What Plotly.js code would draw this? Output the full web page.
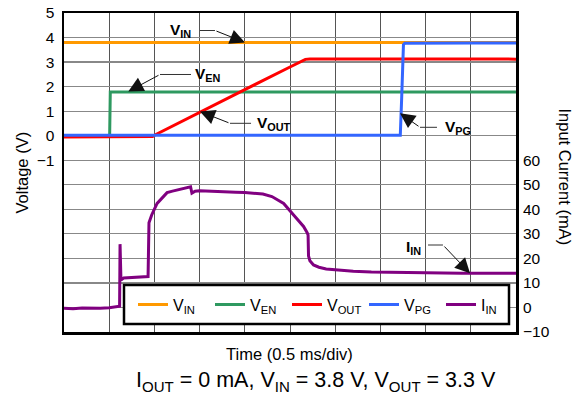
<!DOCTYPE html>
<html>
<head>
<meta charset="utf-8">
<script src="https://cdn.plot.ly/plotly-3.0.1.min.js"></script>
<style>html,body{margin:0;padding:0;background:#fff;}#chart{width:582px;height:402px;}</style>
</head>
<body>
<div id="chart"></div>
<script>
// Time in ms (0.5 ms/div, 10 divisions)
const vinTime = [0, 1, 2, 3, 4, 5];
const vinVolt = [3.8, 3.8, 3.8, 3.8, 3.8, 3.8];

const venTime = [0, 0.505, 0.512, 1.0, 2.0, 3.0, 4.0, 5.0];
const venVolt = [0.0, 0.0, 1.78, 1.78, 1.78, 1.78, 1.78, 1.78];

const voutTime = [0, 0.5, 0.98, 1.0, 1.5, 2.0, 2.5, 2.62, 2.67, 2.72, 3.0, 3.5, 4.0, 4.5, 5.0];
const voutVolt = [-0.05, -0.05, -0.03, 0.02, 0.96, 1.88, 2.8, 3.04, 3.11, 3.13, 3.13, 3.12, 3.13, 3.12, 3.12];

const vpgTime = [0, 1.0, 2.0, 3.0, 3.72, 3.735, 3.755, 3.77, 4.0, 4.5, 5.0];
const vpgVolt = [0.02, 0.02, 0.02, 0.02, 0.02, 1.5, 3.7, 3.77, 3.78, 3.78, 3.78];

const iinTime = [0, 0.1, 0.2, 0.3, 0.4, 0.5, 0.6, 0.615, 0.62, 0.63, 0.66, 0.75, 0.85, 0.93, 0.94, 0.97, 1.03, 1.1, 1.14, 1.2, 1.25, 1.3, 1.375, 1.4, 1.415, 1.45, 1.5, 1.6, 1.7, 1.8, 1.9, 2.0, 2.1, 2.2, 2.3, 2.43, 2.54, 2.6, 2.65, 2.69, 2.70, 2.705, 2.72, 2.76, 2.82, 2.9, 3.0, 3.2, 3.4, 3.6, 3.8, 4.0, 4.2, 4.4, 4.6, 4.8, 5.0];
const iinCurrent = [-0.3, -0.5, -0.2, -0.4, -0.3, -0.1, 0.2, 0.5, 25.8, 11.2, 12.0, 12.3, 12.4, 12.6, 34.5, 37.7, 42.4, 45.5, 46.8, 47.4, 47.9, 48.3, 49.0, 49.2, 46.6, 47.4, 47.6, 47.5, 47.3, 47.3, 47.0, 46.8, 46.6, 46.2, 45.2, 42.4, 37.7, 35.0, 33.0, 30.5, 29.5, 21.0, 19.0, 17.3, 16.4, 15.7, 15.3, 14.8, 14.5, 14.3, 14.2, 14.0, 14.0, 13.9, 13.9, 13.9, 13.9];

const xTicks = [0, 0.5, 1, 1.5, 2, 2.5, 3, 3.5, 4, 4.5, 5];
const yTickVals = [-1, 0, 1, 2, 3, 4, 5];
const y2TickVals = [-10, 0, 10, 20, 30, 40, 50, 60];

const FONT = 'Liberation Sans, Arial, sans-serif';

const traces = [
  {x: vinTime, y: vinVolt, name: 'V<sub>IN</sub>', mode: 'lines', line: {color: '#FF9900', width: 3}},
  {x: venTime, y: venVolt, name: 'V<sub>EN</sub>', mode: 'lines', line: {color: '#2E9960', width: 3}},
  {x: voutTime, y: voutVolt, name: 'V<sub>OUT</sub>', mode: 'lines', line: {color: '#FF0000', width: 3}},
  {x: vpgTime, y: vpgVolt, name: 'V<sub>PG</sub>', mode: 'lines', line: {color: '#3366FF', width: 3}},
  {x: iinTime, y: iinCurrent, name: 'I<sub>IN</sub>', mode: 'lines', yaxis: 'y2', line: {color: '#800080', width: 3}}
];

function px2x(px) { return (px - 64) / 452; }
function py2y(py) { return (332 - py) / 319; }

function label(text, x, y, yref) {
  return {text: '<b>' + text + '</b>', x: x, y: y, xref: 'x', yref: yref || 'y', showarrow: false,
          xanchor: 'center', yanchor: 'middle', font: {family: FONT, size: 15.5, color: '#000'}};
}
function arrow(x, y, ax, ay, yref) {
  return {text: '', x: x, y: y, ax: ax, ay: ay, xref: 'x', yref: yref || 'y', axref: 'x', ayref: yref || 'y',
          showarrow: true, arrowhead: 2, arrowsize: 3, arrowwidth: 1, arrowcolor: '#111'};
}
function lead(x0, x1, y, yref) {
  return {type: 'line', xref: 'x', yref: yref || 'y', x0: x0, x1: x1, y0: y, y1: y,
          line: {color: '#333', width: 1}};
}
function paperText(text, px, py, size, angle) {
  return {text: text, xref: 'paper', yref: 'paper', x: px2x(px), y: py2y(py), xanchor: 'center', yanchor: 'middle',
          textangle: angle || 0, showarrow: false, font: {family: FONT, size: size, color: '#000'}};
}

const layout = {
  width: 582, height: 402,
  margin: {l: 64, r: 66, t: 13, b: 70, pad: 0},
  paper_bgcolor: '#fff', plot_bgcolor: '#fff',
  font: {family: FONT, size: 15.5, color: '#000'},
  showlegend: true,
  legend: {orientation: 'h', x: px2x(133), xanchor: 'left', y: py2y(304.5), yanchor: 'middle',
           entrywidth: 32, entrywidthmode: 'pixels',
           bgcolor: 'rgba(0,0,0,0)', borderwidth: 0, font: {family: FONT, size: 16, color: '#000'}},
  xaxis: {range: [0, 5], tickvals: xTicks, showticklabels: false, ticks: '', showgrid: true,
          gridcolor: '#555', gridwidth: 1, zeroline: false, showline: true, mirror: true,
          linecolor: '#000', linewidth: 2.5, fixedrange: true},
  yaxis: {range: [-8, 5], tickvals: yTickVals, ticks: '', showgrid: true,
          gridcolor: '#888', gridwidth: 1.2, zeroline: false, showline: true, mirror: true,
          linecolor: '#000', linewidth: 2.5, ticklabelstandoff: 4, tickfont: {size: 15.5}},
  yaxis2: {range: [-10, 120], overlaying: 'y', side: 'right', tickvals: y2TickVals,
           ticks: '', showgrid: true, gridcolor: '#888', gridwidth: 1.2, zeroline: false, showline: false,
           ticklabelstandoff: 6, tickfont: {size: 15.5}},
  shapes: [
    {type: 'rect', xref: 'paper', yref: 'paper', x0: px2x(124), x1: px2x(509), y0: py2y(324), y1: py2y(285),
     fillcolor: '#fff', line: {color: '#000', width: 2.5}, layer: 'above'},
    lead(1.504, 1.670, 4.287),
    lead(1.405, 1.062, 2.494),
    lead(2.069, 1.836, 0.505),
    lead(4.126, 3.938, 0.342),
    lead(4.027, 4.192, 25.45, 'y2')
  ],
  annotations: [
    label('V<sub>IN</sub>', 1.294, 4.27),
    arrow(2.002, 3.80, 1.670, 4.287),
    label('V<sub>EN</sub>', 1.593, 2.474),
    arrow(0.711, 1.80, 1.062, 2.494),
    label('V<sub>OUT</sub>', 2.323, 0.477),
    arrow(1.504, 0.986, 1.836, 0.505),
    label('V<sub>PG</sub>', 4.358, 0.354),
    arrow(3.717, 0.913, 3.938, 0.342),
    label('I<sub>IN</sub>', 3.861, 24.6, 'y2'),
    arrow(4.491, 13.9, 4.192, 25.45, 'y2'),
    paperText('Voltage (V)', 21.5, 173, 16.5, -90),
    paperText('Input Current (mA)', 565, 176.5, 16.5, 90),
    paperText('Time (0.5 ms/div)', 289.7, 353.5, 16.5),
    paperText('I<sub>OUT</sub> = 0 mA, V<sub>IN</sub> = 3.8 V, V<sub>OUT</sub> = 3.3 V', 315.5, 381, 21.5)
  ]
};

Plotly.newPlot('chart', traces, layout, {displayModeBar: false, staticPlot: true});
</script>
</body>
</html>
